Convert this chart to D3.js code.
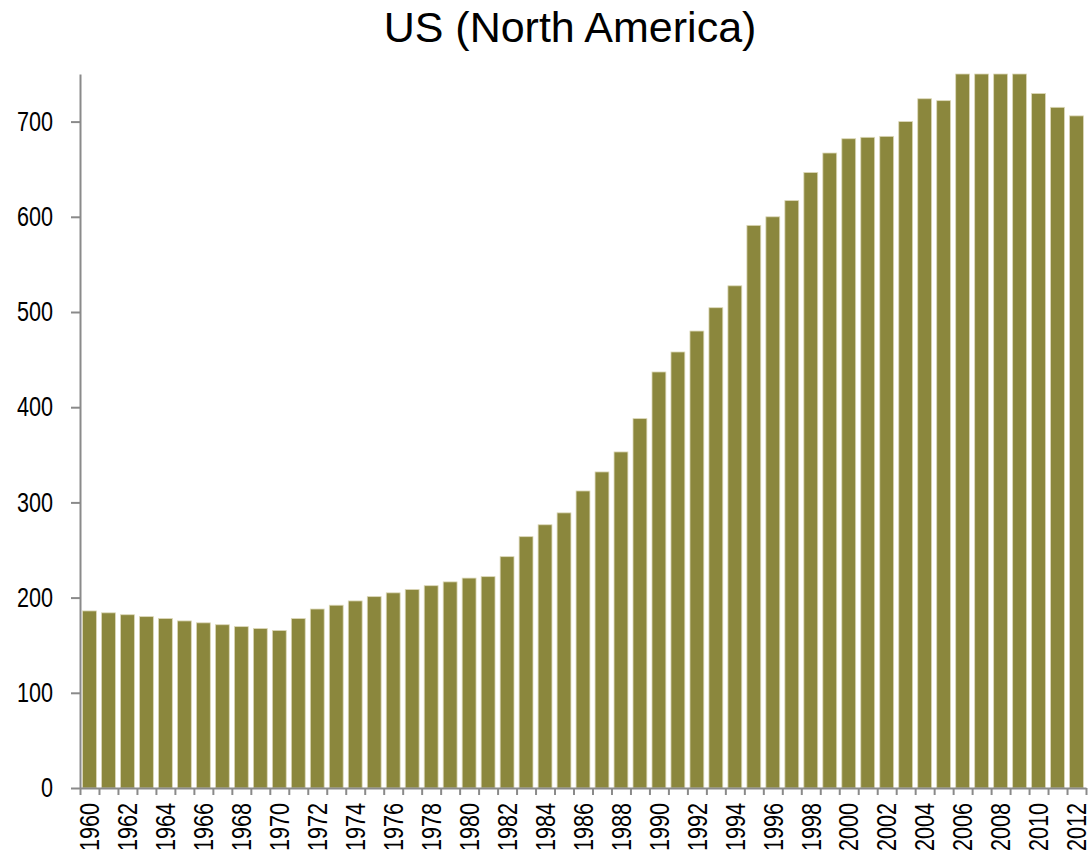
<!DOCTYPE html>
<html>
<head>
<meta charset="utf-8">
<script src="https://cdn.jsdelivr.net/npm/d3@7"></script>
<style>
  body { margin: 0; background: #fff; }
  text { font-family: "Liberation Sans Narrow", "Arial Narrow", "Liberation Sans", sans-serif; fill: #000; }
</style>
</head>
<body>
<script>
// data
var years = d3.range(1960, 2013);
var values = [186, 184, 182, 180, 178, 175.5, 173.5, 171.5, 169.5, 167.5, 165.5,
  178, 188, 192, 196.5, 201, 205, 208.5, 212.5, 216.5, 220.5,
  222, 243, 264, 276.5, 289, 312, 332, 353, 388, 437,
  458, 480, 504.5, 527.5, 591, 600, 617, 646.5, 667, 682,
  683.5, 684.5, 700, 724, 722, 760, 775, 770, 758, 729.5,
  715, 706];
var yTicks = [0, 100, 200, 300, 400, 500, 600, 700];
var labelYears = years.filter(function(d) { return d % 2 === 0; });

// dimensions
var margin = {top: 74, right: 5, bottom: 71, left: 80},
    W = 1091, H = 859,
    width = W - margin.left - margin.right,
    height = H - margin.top - margin.bottom;

// squeeze factor to mimic the narrow face of the original
var narrow = 0.8;

var svg = d3.select("body").append("svg")
    .attr("width", W)
    .attr("height", H);

svg.append("text")
    .attr("x", 570)
    .attr("y", 42)
    .attr("text-anchor", "middle")
    .style("font-size", "43px")
    .text("US (North America)");

var g = svg.append("g")
    .attr("transform", "translate(" + margin.left + "," + margin.top + ")");

var x = d3.scaleBand()
    .domain(years)
    .range([0, width])
    .paddingInner(0.27)
    .paddingOuter(0.135);

var edges = d3.scaleLinear()
    .domain([0, years.length])
    .range([0, width]);

var y = d3.scaleLinear()
    .domain([0, 750])
    .range([height, 0])
    .clamp(true);

// bars
g.selectAll(".bar")
    .data(values)
  .enter().append("rect")
    .attr("class", "bar")
    .attr("x", function(d, i) { return x(years[i]); })
    .attr("width", x.bandwidth())
    .attr("y", function(d) { return y(d); })
    .attr("height", function(d) { return height - y(d); })
    .attr("fill", "#8b873d")
    .attr("stroke", "#dcd8b8")
    .attr("stroke-width", 0.8);

// y axis
var yAxis = g.append("g")
    .call(d3.axisLeft(y).tickValues(yTicks).tickSize(9).tickSizeOuter(0).tickPadding(18));
yAxis.selectAll("text")
    .style("font-size", "27px")
    .attr("x", -27 / narrow)
    .attr("transform", "scale(" + narrow + ",1)");

// x axis: tick marks at band edges
g.append("g")
    .attr("transform", "translate(0," + height + ")")
    .call(d3.axisBottom(edges).tickValues(d3.range(0, years.length + 1))
      .tickSize(7).tickSizeOuter(0).tickFormat(""));

// x labels
var xLab = g.append("g")
    .attr("transform", "translate(0," + height + ")")
    .call(d3.axisBottom(x).tickValues(labelYears).tickSize(0));
xLab.select(".domain").remove();
xLab.selectAll("text")
    .style("font-size", "27px")
    .attr("transform", "rotate(-90) scale(" + narrow + ",1)")
    .attr("x", -15 / narrow)
    .attr("y", 0)
    .attr("dy", "0.36em")
    .style("text-anchor", "end");

svg.selectAll(".domain, .tick line")
    .attr("stroke", "#8a8a8a")
    .attr("stroke-width", 2);
</script>
</body>
</html>
